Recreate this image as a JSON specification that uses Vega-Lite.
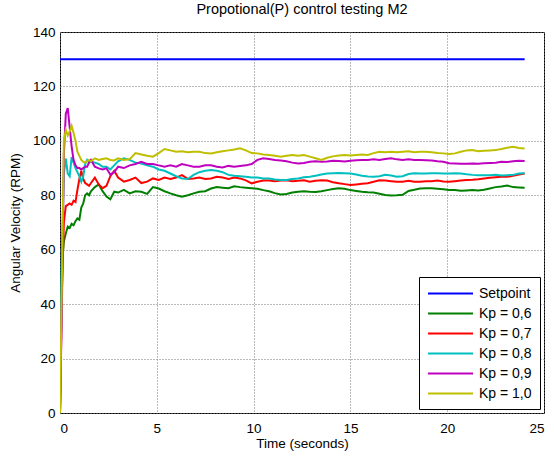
{
  "$schema": "https://vega.github.io/schema/vega-lite/v6.json",
  "autosize": {"type": "none"},
  "padding": {"left": 60, "top": 32, "right": 10, "bottom": 44},
  "width": 484,
  "height": 381,
  "background": "white",
  "title": {"text": "Propotional(P) control testing M2", "font": "Liberation Sans", "fontSize": 14.5, "fontWeight": "normal", "color": "black", "offset": 8},
  "config": {
    "view": {"stroke": "black", "strokeWidth": 1},
    "axis": {"labelFont": "Liberation Sans", "titleFont": "Liberation Sans", "labelFontSize": 13.5, "titleFontSize": 13.5, "titleFontWeight": "normal", "labelColor": "black", "titleColor": "black", "domain": false, "ticks": false, "grid": true, "gridColor": "#777777", "gridDash": [1, 2], "gridOpacity": 1, "gridWidth": 1}
  },
  "data": {"values": [
    {"t":0,"Setpoint":130,"Kp = 0,6":0,"Kp = 0,7":0,"Kp = 0,8":0,"Kp = 0,9":0,"Kp = 1,0":0},
    {"t":0.1,"Setpoint":130,"Kp = 0,6":55,"Kp = 0,7":45,"Kp = 0,8":60,"Kp = 0,9":40,"Kp = 1,0":50},
    {"t":0.2,"Setpoint":130,"Kp = 0,6":63,"Kp = 0,7":70,"Kp = 0,8":88,"Kp = 0,9":95,"Kp = 1,0":100},
    {"t":0.3,"Setpoint":130,"Kp = 0,6":66,"Kp = 0,7":76,"Kp = 0,8":93.5,"Kp = 0,9":110,"Kp = 1,0":104},
    {"t":0.4,"Setpoint":130,"Kp = 0,6":68.5,"Kp = 0,7":76.5,"Kp = 0,8":88,"Kp = 0,9":112,"Kp = 1,0":102},
    {"t":0.5,"Setpoint":130,"Kp = 0,6":68,"Kp = 0,7":77,"Kp = 0,8":87,"Kp = 0,9":105,"Kp = 1,0":103.5},
    {"t":0.6,"Setpoint":130,"Kp = 0,6":69.5,"Kp = 0,7":76.5,"Kp = 0,8":94,"Kp = 0,9":98,"Kp = 1,0":105.5},
    {"t":0.7,"Setpoint":130,"Kp = 0,6":69,"Kp = 0,7":78,"Kp = 0,8":92,"Kp = 0,9":93,"Kp = 1,0":103},
    {"t":0.8,"Setpoint":130,"Kp = 0,6":70.5,"Kp = 0,7":77.5,"Kp = 0,8":90,"Kp = 0,9":91,"Kp = 1,0":100},
    {"t":0.9,"Setpoint":130,"Kp = 0,6":71.5,"Kp = 0,7":82,"Kp = 0,8":88.5,"Kp = 0,9":90,"Kp = 1,0":96},
    {"t":1.0,"Setpoint":130,"Kp = 0,6":71,"Kp = 0,7":86,"Kp = 0,8":87,"Kp = 0,9":90,"Kp = 1,0":94.5},
    {"t":1.1,"Setpoint":130,"Kp = 0,6":75.5,"Kp = 0,7":89,"Kp = 0,8":85,"Kp = 0,9":89.5,"Kp = 1,0":93},
    {"t":1.2,"Setpoint":130,"Kp = 0,6":77,"Kp = 0,7":86,"Kp = 0,8":87,"Kp = 0,9":90,"Kp = 1,0":92.3},
    {"t":1.3,"Setpoint":130,"Kp = 0,6":80,"Kp = 0,7":84.5,"Kp = 0,8":91.5,"Kp = 0,9":90.5,"Kp = 1,0":92},
    {"t":1.4,"Setpoint":130,"Kp = 0,6":80.7,"Kp = 0,7":84,"Kp = 0,8":93,"Kp = 0,9":90.5,"Kp = 1,0":92.5},
    {"t":1.5,"Setpoint":130,"Kp = 0,6":80,"Kp = 0,7":83.5,"Kp = 0,8":92,"Kp = 0,9":92,"Kp = 1,0":93},
    {"t":1.6,"Setpoint":130,"Kp = 0,6":81.5,"Kp = 0,7":84.5,"Kp = 0,8":92.5,"Kp = 0,9":93,"Kp = 1,0":92.5},
    {"t":1.8,"Setpoint":130,"Kp = 0,6":83,"Kp = 0,7":86.5,"Kp = 0,8":92,"Kp = 0,9":90.5,"Kp = 1,0":93.6},
    {"t":2.0,"Setpoint":130,"Kp = 0,6":84,"Kp = 0,7":84,"Kp = 0,8":91.5,"Kp = 0,9":89.9,"Kp = 1,0":93},
    {"t":2.2,"Setpoint":130,"Kp = 0,6":81.5,"Kp = 0,7":82.6,"Kp = 0,8":90.5,"Kp = 0,9":89.5,"Kp = 1,0":93.3},
    {"t":2.4,"Setpoint":130,"Kp = 0,6":79.5,"Kp = 0,7":83.5,"Kp = 0,8":90.5,"Kp = 0,9":89.9,"Kp = 1,0":93.6},
    {"t":2.6,"Setpoint":130,"Kp = 0,6":78.5,"Kp = 0,7":87,"Kp = 0,8":89.5,"Kp = 0,9":87.6,"Kp = 1,0":93},
    {"t":2.8,"Setpoint":130,"Kp = 0,6":81.3,"Kp = 0,7":89,"Kp = 0,8":91,"Kp = 0,9":88.5,"Kp = 1,0":92.8},
    {"t":3.0,"Setpoint":130,"Kp = 0,6":81,"Kp = 0,7":86.5,"Kp = 0,8":92.5,"Kp = 0,9":90.5,"Kp = 1,0":93.6},
    {"t":3.3,"Setpoint":130,"Kp = 0,6":82,"Kp = 0,7":85,"Kp = 0,8":93.6,"Kp = 0,9":90,"Kp = 1,0":93},
    {"t":3.6,"Setpoint":130,"Kp = 0,6":80.7,"Kp = 0,7":85.6,"Kp = 0,8":93,"Kp = 0,9":91,"Kp = 1,0":93.3},
    {"t":3.9,"Setpoint":130,"Kp = 0,6":81.5,"Kp = 0,7":86.5,"Kp = 0,8":92,"Kp = 0,9":91.5,"Kp = 1,0":95.5},
    {"t":4.2,"Setpoint":130,"Kp = 0,6":81.3,"Kp = 0,7":84.5,"Kp = 0,8":91.7,"Kp = 0,9":92.3,"Kp = 1,0":95},
    {"t":4.5,"Setpoint":130,"Kp = 0,6":80.5,"Kp = 0,7":85,"Kp = 0,8":91,"Kp = 0,9":91.5,"Kp = 1,0":94.5},
    {"t":4.8,"Setpoint":130,"Kp = 0,6":83,"Kp = 0,7":86.2,"Kp = 0,8":90.5,"Kp = 0,9":91.5,"Kp = 1,0":94.2},
    {"t":5.1,"Setpoint":130,"Kp = 0,6":82.5,"Kp = 0,7":85.6,"Kp = 0,8":89.5,"Kp = 0,9":91,"Kp = 1,0":95.5},
    {"t":5.4,"Setpoint":130,"Kp = 0,6":81.5,"Kp = 0,7":86.5,"Kp = 0,8":89,"Kp = 0,9":90.5,"Kp = 1,0":97},
    {"t":5.7,"Setpoint":130,"Kp = 0,6":80.7,"Kp = 0,7":86,"Kp = 0,8":88,"Kp = 0,9":91,"Kp = 1,0":96.5},
    {"t":6.0,"Setpoint":130,"Kp = 0,6":80,"Kp = 0,7":86.5,"Kp = 0,8":87,"Kp = 0,9":90.5,"Kp = 1,0":96},
    {"t":6.3,"Setpoint":130,"Kp = 0,6":79.5,"Kp = 0,7":87.4,"Kp = 0,8":86.2,"Kp = 0,9":91.5,"Kp = 1,0":96.2},
    {"t":6.6,"Setpoint":130,"Kp = 0,6":80,"Kp = 0,7":86,"Kp = 0,8":86,"Kp = 0,9":91,"Kp = 1,0":95.8},
    {"t":6.9,"Setpoint":130,"Kp = 0,6":80.7,"Kp = 0,7":86.2,"Kp = 0,8":87.5,"Kp = 0,9":90.5,"Kp = 1,0":96},
    {"t":7.2,"Setpoint":130,"Kp = 0,6":81.3,"Kp = 0,7":86.5,"Kp = 0,8":88.5,"Kp = 0,9":90.5,"Kp = 1,0":96},
    {"t":7.5,"Setpoint":130,"Kp = 0,6":81.5,"Kp = 0,7":86,"Kp = 0,8":89,"Kp = 0,9":91,"Kp = 1,0":95.5},
    {"t":7.8,"Setpoint":130,"Kp = 0,6":82.5,"Kp = 0,7":86.2,"Kp = 0,8":89.3,"Kp = 0,9":91,"Kp = 1,0":95.4},
    {"t":8.1,"Setpoint":130,"Kp = 0,6":83,"Kp = 0,7":86.8,"Kp = 0,8":89,"Kp = 0,9":90.5,"Kp = 1,0":95.8},
    {"t":8.4,"Setpoint":130,"Kp = 0,6":82.8,"Kp = 0,7":86.5,"Kp = 0,8":88.5,"Kp = 0,9":90.2,"Kp = 1,0":96.2},
    {"t":8.7,"Setpoint":130,"Kp = 0,6":82.6,"Kp = 0,7":86,"Kp = 0,8":87.5,"Kp = 0,9":90.8,"Kp = 1,0":96.5},
    {"t":9.0,"Setpoint":130,"Kp = 0,6":83.3,"Kp = 0,7":86.5,"Kp = 0,8":87.2,"Kp = 0,9":90.5,"Kp = 1,0":96.8},
    {"t":9.3,"Setpoint":130,"Kp = 0,6":83,"Kp = 0,7":86.2,"Kp = 0,8":87,"Kp = 0,9":90.8,"Kp = 1,0":97.3},
    {"t":9.6,"Setpoint":130,"Kp = 0,6":82.8,"Kp = 0,7":85.5,"Kp = 0,8":86.8,"Kp = 0,9":91,"Kp = 1,0":96.5},
    {"t":9.9,"Setpoint":130,"Kp = 0,6":82.6,"Kp = 0,7":84.4,"Kp = 0,8":86.5,"Kp = 0,9":91.5,"Kp = 1,0":95.5},
    {"t":10.2,"Setpoint":130,"Kp = 0,6":82.4,"Kp = 0,7":85,"Kp = 0,8":86.5,"Kp = 0,9":93,"Kp = 1,0":95.4},
    {"t":10.5,"Setpoint":130,"Kp = 0,6":81.9,"Kp = 0,7":85.4,"Kp = 0,8":86.2,"Kp = 0,9":93.6,"Kp = 1,0":95},
    {"t":10.8,"Setpoint":130,"Kp = 0,6":81.5,"Kp = 0,7":85.4,"Kp = 0,8":86.2,"Kp = 0,9":93.3,"Kp = 1,0":94.8},
    {"t":11.1,"Setpoint":130,"Kp = 0,6":80.8,"Kp = 0,7":85.2,"Kp = 0,8":85.8,"Kp = 0,9":93,"Kp = 1,0":94.5},
    {"t":11.4,"Setpoint":130,"Kp = 0,6":80.3,"Kp = 0,7":85.4,"Kp = 0,8":85.6,"Kp = 0,9":92.8,"Kp = 1,0":94.2},
    {"t":11.7,"Setpoint":130,"Kp = 0,6":80.5,"Kp = 0,7":85.5,"Kp = 0,8":85.6,"Kp = 0,9":92.5,"Kp = 1,0":94.5},
    {"t":12.0,"Setpoint":130,"Kp = 0,6":81,"Kp = 0,7":85.2,"Kp = 0,8":86,"Kp = 0,9":92,"Kp = 1,0":94.8},
    {"t":12.3,"Setpoint":130,"Kp = 0,6":81.3,"Kp = 0,7":85.3,"Kp = 0,8":86.2,"Kp = 0,9":91.7,"Kp = 1,0":94.5},
    {"t":12.6,"Setpoint":130,"Kp = 0,6":81.5,"Kp = 0,7":85.5,"Kp = 0,8":86.6,"Kp = 0,9":91.9,"Kp = 1,0":94.8},
    {"t":12.9,"Setpoint":130,"Kp = 0,6":81.3,"Kp = 0,7":85,"Kp = 0,8":86.8,"Kp = 0,9":92.3,"Kp = 1,0":94.2},
    {"t":13.2,"Setpoint":130,"Kp = 0,6":81.2,"Kp = 0,7":85.3,"Kp = 0,8":87.2,"Kp = 0,9":92.5,"Kp = 1,0":93.6},
    {"t":13.5,"Setpoint":130,"Kp = 0,6":81.5,"Kp = 0,7":85.5,"Kp = 0,8":87.6,"Kp = 0,9":92.3,"Kp = 1,0":93},
    {"t":13.8,"Setpoint":130,"Kp = 0,6":81.9,"Kp = 0,7":85.4,"Kp = 0,8":88,"Kp = 0,9":92.4,"Kp = 1,0":93.8},
    {"t":14.1,"Setpoint":130,"Kp = 0,6":82.3,"Kp = 0,7":84.8,"Kp = 0,8":88.1,"Kp = 0,9":92.7,"Kp = 1,0":94.3},
    {"t":14.4,"Setpoint":130,"Kp = 0,6":82.6,"Kp = 0,7":84.4,"Kp = 0,8":88.2,"Kp = 0,9":92.6,"Kp = 1,0":94.6},
    {"t":14.7,"Setpoint":130,"Kp = 0,6":82.4,"Kp = 0,7":84.1,"Kp = 0,8":88.1,"Kp = 0,9":92.4,"Kp = 1,0":94.8},
    {"t":15.0,"Setpoint":130,"Kp = 0,6":81.9,"Kp = 0,7":83.8,"Kp = 0,8":88,"Kp = 0,9":92.7,"Kp = 1,0":94.6},
    {"t":15.3,"Setpoint":130,"Kp = 0,6":81.6,"Kp = 0,7":84,"Kp = 0,8":87.6,"Kp = 0,9":92.9,"Kp = 1,0":94.8},
    {"t":15.6,"Setpoint":130,"Kp = 0,6":81.3,"Kp = 0,7":84.2,"Kp = 0,8":87.2,"Kp = 0,9":93,"Kp = 1,0":95},
    {"t":15.9,"Setpoint":130,"Kp = 0,6":81.1,"Kp = 0,7":84.4,"Kp = 0,8":86.9,"Kp = 0,9":93,"Kp = 1,0":94.8},
    {"t":16.2,"Setpoint":130,"Kp = 0,6":81,"Kp = 0,7":85,"Kp = 0,8":86.8,"Kp = 0,9":93.2,"Kp = 1,0":95.5},
    {"t":16.5,"Setpoint":130,"Kp = 0,6":80.6,"Kp = 0,7":85.5,"Kp = 0,8":87,"Kp = 0,9":93,"Kp = 1,0":96},
    {"t":16.8,"Setpoint":130,"Kp = 0,6":80.1,"Kp = 0,7":85.4,"Kp = 0,8":87.5,"Kp = 0,9":93.3,"Kp = 1,0":95.8},
    {"t":17.1,"Setpoint":130,"Kp = 0,6":79.9,"Kp = 0,7":85.2,"Kp = 0,8":87.3,"Kp = 0,9":93.6,"Kp = 1,0":96},
    {"t":17.4,"Setpoint":130,"Kp = 0,6":80,"Kp = 0,7":85,"Kp = 0,8":86.8,"Kp = 0,9":93.2,"Kp = 1,0":95.8},
    {"t":17.7,"Setpoint":130,"Kp = 0,6":80.2,"Kp = 0,7":85,"Kp = 0,8":87,"Kp = 0,9":93,"Kp = 1,0":96},
    {"t":18.0,"Setpoint":130,"Kp = 0,6":81.6,"Kp = 0,7":85.3,"Kp = 0,8":87.8,"Kp = 0,9":93.2,"Kp = 1,0":96.2},
    {"t":18.3,"Setpoint":130,"Kp = 0,6":82,"Kp = 0,7":85,"Kp = 0,8":88.1,"Kp = 0,9":93,"Kp = 1,0":95.8},
    {"t":18.6,"Setpoint":130,"Kp = 0,6":82.5,"Kp = 0,7":85,"Kp = 0,8":88,"Kp = 0,9":93,"Kp = 1,0":96},
    {"t":18.9,"Setpoint":130,"Kp = 0,6":82.6,"Kp = 0,7":85.2,"Kp = 0,8":88,"Kp = 0,9":92.9,"Kp = 1,0":96},
    {"t":19.2,"Setpoint":130,"Kp = 0,6":82.6,"Kp = 0,7":85.2,"Kp = 0,8":88.1,"Kp = 0,9":92.8,"Kp = 1,0":95.8},
    {"t":19.5,"Setpoint":130,"Kp = 0,6":82.4,"Kp = 0,7":85.4,"Kp = 0,8":88.1,"Kp = 0,9":92.5,"Kp = 1,0":95.5},
    {"t":19.8,"Setpoint":130,"Kp = 0,6":82.2,"Kp = 0,7":85.1,"Kp = 0,8":88,"Kp = 0,9":92.3,"Kp = 1,0":95.4},
    {"t":20.1,"Setpoint":130,"Kp = 0,6":81.9,"Kp = 0,7":85,"Kp = 0,8":88,"Kp = 0,9":91.8,"Kp = 1,0":95.2},
    {"t":20.4,"Setpoint":130,"Kp = 0,6":81.9,"Kp = 0,7":85.2,"Kp = 0,8":88.1,"Kp = 0,9":91.7,"Kp = 1,0":95.4},
    {"t":20.7,"Setpoint":130,"Kp = 0,6":81.7,"Kp = 0,7":85.4,"Kp = 0,8":88,"Kp = 0,9":91.6,"Kp = 1,0":96},
    {"t":21.0,"Setpoint":130,"Kp = 0,6":81.8,"Kp = 0,7":85.6,"Kp = 0,8":87.7,"Kp = 0,9":91.6,"Kp = 1,0":96.5},
    {"t":21.3,"Setpoint":130,"Kp = 0,6":81.9,"Kp = 0,7":85.7,"Kp = 0,8":87.5,"Kp = 0,9":91.7,"Kp = 1,0":96.6},
    {"t":21.6,"Setpoint":130,"Kp = 0,6":81.8,"Kp = 0,7":85.9,"Kp = 0,8":87.4,"Kp = 0,9":91.6,"Kp = 1,0":96.2},
    {"t":21.9,"Setpoint":130,"Kp = 0,6":82,"Kp = 0,7":86.2,"Kp = 0,8":87.4,"Kp = 0,9":91.8,"Kp = 1,0":96.4},
    {"t":22.2,"Setpoint":130,"Kp = 0,6":82.5,"Kp = 0,7":86.4,"Kp = 0,8":87.4,"Kp = 0,9":91.9,"Kp = 1,0":96.5},
    {"t":22.5,"Setpoint":130,"Kp = 0,6":83,"Kp = 0,7":86.6,"Kp = 0,8":87.5,"Kp = 0,9":92,"Kp = 1,0":96.6},
    {"t":22.8,"Setpoint":130,"Kp = 0,6":83.2,"Kp = 0,7":86.8,"Kp = 0,8":87.3,"Kp = 0,9":92.3,"Kp = 1,0":97},
    {"t":23.1,"Setpoint":130,"Kp = 0,6":83.6,"Kp = 0,7":86.8,"Kp = 0,8":87.4,"Kp = 0,9":92.2,"Kp = 1,0":97.5},
    {"t":23.4,"Setpoint":130,"Kp = 0,6":83,"Kp = 0,7":87.2,"Kp = 0,8":87.5,"Kp = 0,9":92.5,"Kp = 1,0":97.8},
    {"t":23.7,"Setpoint":130,"Kp = 0,6":82.9,"Kp = 0,7":87.6,"Kp = 0,8":88,"Kp = 0,9":92.7,"Kp = 1,0":97.4},
    {"t":24.0,"Setpoint":130,"Kp = 0,6":82.8,"Kp = 0,7":88,"Kp = 0,8":88.1,"Kp = 0,9":92.6,"Kp = 1,0":97.2}
  ]},
  "transform": [
    {"fold": ["Setpoint", "Kp = 0,6", "Kp = 0,7", "Kp = 0,8", "Kp = 0,9", "Kp = 1,0"], "as": ["series", "rpm"]}
  ],
  "mark": {"type": "line", "strokeWidth": 2, "clip": true},
  "encoding": {
    "x": {"field": "t", "type": "quantitative", "scale": {"domain": [0, 25], "nice": false},
      "axis": {"title": "Time (seconds)", "values": [0, 5, 10, 15, 20, 25], "labelPadding": 8, "titlePadding": 2}},
    "y": {"field": "rpm", "type": "quantitative", "scale": {"domain": [0, 140], "nice": false},
      "axis": {"title": "Angular Velocity (RPM)", "values": [0, 20, 40, 60, 80, 100, 120, 140], "labelPadding": 5, "titlePadding": 10}},
    "color": {"field": "series", "type": "nominal",
      "scale": {"domain": ["Setpoint", "Kp = 0,6", "Kp = 0,7", "Kp = 0,8", "Kp = 0,9", "Kp = 1,0"],
                "range": ["#0000ff", "#008000", "#ff0000", "#00bfbf", "#bf00bf", "#bfbf00"]},
      "legend": {"title": null, "orient": "bottom-right", "offset": 4, "fillColor": "white", "strokeColor": "black",
        "padding": 8, "symbolType": "M-3,0H3", "symbolStrokeWidth": 2, "symbolSize": 225, "symbolOffset": 15,
        "labelFont": "Liberation Sans", "labelFontSize": 14, "labelColor": "black", "rowPadding": 4, "labelOffset": 20}},
    "order": {"field": "t", "type": "quantitative"}
  }
}
